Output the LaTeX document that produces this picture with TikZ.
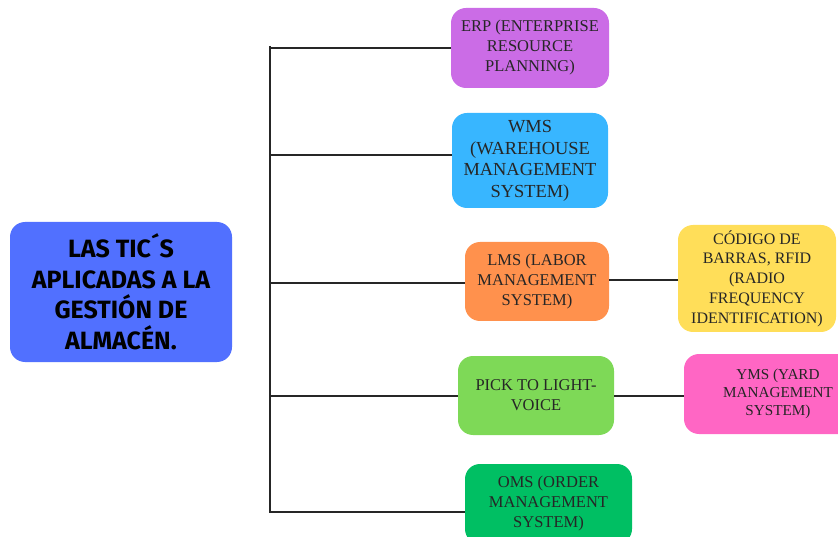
\documentclass[tikz,border=0pt]{standalone}
\usepackage{fontspec}
\setmainfont{Liberation Serif}
\newfontfamily\headfont{Fira Sans}
\begin{document}
\begin{tikzpicture}[x=1pt,y=-1pt,
  box/.style={rounded corners=15pt, inner sep=0pt, align=center, text=black!85},
  item/.style={box, font=\fontsize{16.5}{20}\selectfont},
  link/.style={line width=2.6pt, draw=black!85}]
\useasboundingbox (0,0) rectangle (838,537);
\definecolor{cmain}{HTML}{5170FF}
\definecolor{cerp}{HTML}{CB6CE6}
\definecolor{cwms}{HTML}{38B6FF}
\definecolor{clms}{HTML}{FF914D}
\definecolor{ccod}{HTML}{FFDE59}
\definecolor{cpick}{HTML}{7ED957}
\definecolor{cyms}{HTML}{FF66C4}
\definecolor{coms}{HTML}{00BF63}

% central topic
\node[box, fill=cmain, text=black, minimum width=222pt, minimum height=140pt,
      font=\headfont\bfseries\fontsize{25}{30.5}\selectfont] (main) at (121,292)
  {LAS TIC´S\\APLICADAS A LA\\GESTIÓN DE\\ALMACÉN.};

% first-level items
\node[item, fill=cerp, minimum width=158pt, minimum height=80pt] (erp) at (530,48)
  {ERP (ENTERPRISE\\RESOURCE\\PLANNING)};
\node[item, fill=cwms, minimum width=156pt, minimum height=95pt,
      font=\fontsize{18.4}{21.5}\selectfont] (wms) at (530,160.5)
  {\raisebox{8pt}{\begin{tabular}{@{}c@{}}WMS\\(WAREHOUSE\\MANAGEMENT\\SYSTEM)\end{tabular}}};
\node[item, fill=clms, minimum width=144pt, minimum height=79pt] (lms) at (537,281.5)
  {LMS (LABOR\\MANAGEMENT\\SYSTEM)};
\node[item, fill=cpick, minimum width=156pt, minimum height=79pt] (pick) at (536,395.5)
  {PICK TO LIGHT-\\VOICE};
\node[item, fill=coms, minimum width=167pt, minimum height=80pt] (oms) at (548.5,504)
  {OMS (ORDER\\MANAGEMENT\\SYSTEM)};

% second-level items
\node[item, fill=ccod, minimum width=158pt, minimum height=107pt,
      font=\fontsize{16}{19.7}\selectfont] (cod) at (757,278.5)
  {CÓDIGO DE\\BARRAS, RFID\\(RADIO\\FREQUENCY\\IDENTIFICATION)};
\node[item, fill=cyms, minimum width=188pt, minimum height=80pt,
      font=\fontsize{15.2}{18}\selectfont] (yms) at (778,394)
  {YMS (YARD\\MANAGEMENT\\SYSTEM)};

% trunk and branches
\coordinate (t1) at (270,48);
\coordinate (t2) at (270,155);
\coordinate (t3) at (270,283);
\coordinate (t4) at (270,396);
\coordinate (t5) at (270,512);
\draw[link] (270,46) -- (270,513.3);
\draw[link] (t1) -- (t1 -| erp.west);
\draw[link] (t2) -- (t2 -| wms.west);
\draw[link] (t3) -- (t3 -| lms.west);
\draw[link] (t4) -- (t4 -| pick.west);
\draw[link] (t5) -- (t5 -| oms.west);
\draw[link] (lms.east |- 0,280) -- (cod.west |- 0,280);
\draw[link] (pick.east |- 0,396) -- (yms.west |- 0,396);
\end{tikzpicture}
\end{document}
